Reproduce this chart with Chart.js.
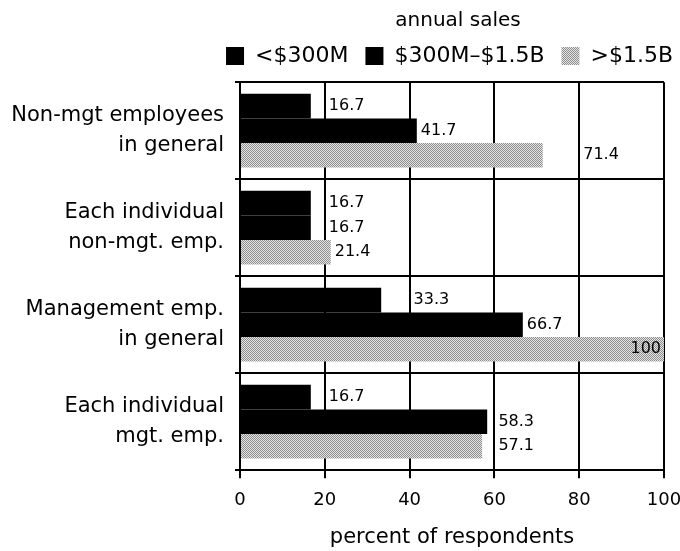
<!DOCTYPE html>
<html>
<head>
<meta charset="utf-8">
<script src="https://cdn.jsdelivr.net/npm/chart.js@4.4.1/dist/chart.umd.min.js"></script>
<style>
  html, body { margin: 0; padding: 0; background: #fff; }
</style>
</head>
<body>
<canvas id="chart" width="680" height="551"></canvas>
<script>
/* ================= DATA ================= */
const categories = [
  ["Non-mgt employees", "in general"],
  ["Each individual", "non-mgt. emp."],
  ["Management emp.", "in general"],
  ["Each individual", "mgt. emp."]
];
const seriesNames = ["<$300M", "$300M–$1.5B", ">$1.5B"];
const under300M = [16.7, 16.7, 33.3, 16.7];
const from300Mto1500M = [41.7, 16.7, 66.7, 58.3];
const over1500M = [71.4, 21.4, 100, 57.1];
const xTicks = [0, 20, 40, 60, 80, 100];

/* ================= HELPERS ================= */
const FONT = "'DejaVu Sans', sans-serif";
const canvas = document.getElementById("chart");
const ctx = canvas.getContext("2d");

// grey stipple fill for the third series
function stipple() {
  const t = document.createElement("canvas");
  t.width = 4; t.height = 4;
  const g = t.getContext("2d");
  g.fillStyle = "#e4e4e4";
  g.fillRect(0, 0, 4, 4);
  g.fillStyle = "#8e8e8e";
  for (let y = 0; y < 4; y++)
    for (let x = 0; x < 4; x++)
      if ((x + y) % 2 === 0) g.fillRect(x, y, 1, 1);
  return ctx.createPattern(t, "repeat");
}

// value labels next to bar ends, nudged past gridlines
const valueLabels = {
  id: "valueLabels",
  afterLayout(chart) {
    // legend row sits a bit further right than the default
    chart.legend.left += 10;
    chart.legend.right += 10;
  },
  afterDatasetsDraw(chart) {
    const c = chart.ctx;
    const xs = chart.scales.x;
    const area = chart.chartArea;
    const grid = xTicks.map(v => xs.getPixelForValue(v));
    c.save();
    c.font = "16px " + FONT;
    c.fillStyle = "#000";
    c.textBaseline = "middle";
    chart.data.datasets.forEach((ds, i) => {
      chart.getDatasetMeta(i).data.forEach((bar, j) => {
        const txt = String(ds.data[j]);
        const w = c.measureText(txt).width;
        let left = bar.x + 4;
        if (left + w > area.right) {
          c.textAlign = "right";
          c.fillText(txt, area.right - 3, bar.y);
          return;
        }
        grid.forEach(gx => {
          if (gx > bar.x - 1 && gx < left + w + 2) left = gx + 4;
        });
        c.textAlign = "left";
        c.fillText(txt, left, bar.y);
      });
    });
    c.restore();
  }
};

/* ================= CHART ================= */
new Chart(canvas, {
  type: "bar",
  data: {
    labels: categories,
    datasets: [
      { label: seriesNames[0], data: under300M, backgroundColor: "#000" },
      { label: seriesNames[1], data: from300Mto1500M, backgroundColor: "#000" },
      { label: seriesNames[2], data: over1500M, backgroundColor: stipple() }
    ]
  },
  options: {
    indexAxis: "y",
    responsive: false,
    animation: false,
    categoryPercentage: 0.76,
    barPercentage: 1,
    layout: { padding: { top: 0, right: 0, bottom: 0, left: 0 } },
    plugins: {
      tooltip: { enabled: false },
      legend: {
        position: "top",
        align: "end",
        title: {
          display: true,
          text: "annual sales",
          color: "#000",
          font: { family: FONT, size: 20 },
          padding: { top: 11, bottom: -7 }
        },
        labels: {
          boxWidth: 18,
          boxHeight: 18,
          padding: 17,
          color: "#000",
          font: { family: FONT, size: 22 }
        }
      },
      // empty spacer between legend and plot
      subtitle: {
        display: true,
        text: "",
        weight: 500,
        font: { size: 1 },
        padding: { top: 0, bottom: 4 }
      }
    },
    scales: {
      x: {
        min: 0,
        max: 100,
        ticks: { stepSize: 20, color: "#000", font: { family: FONT, size: 18 }, padding: 11 },
        grid: { color: "#000", lineWidth: 2, tickLength: 8 },
        border: { color: "#000", width: 2 },
        title: {
          display: true,
          text: "percent of respondents",
          color: "#000",
          font: { family: FONT, size: 21 },
          padding: { top: 3, bottom: 1 }
        },
        afterFit(scale) { scale.paddingRight = 16; }
      },
      y: {
        ticks: { color: "#000", font: { family: FONT, size: 21, lineHeight: 1.45 }, padding: 11 },
        grid: { color: "#000", lineWidth: 2, tickLength: 5, offset: true },
        border: { color: "#000", width: 2 },
        afterFit(scale) { scale.width = 240; }
      }
    }
  },
  plugins: [valueLabels]
});
</script>
</body>
</html>
